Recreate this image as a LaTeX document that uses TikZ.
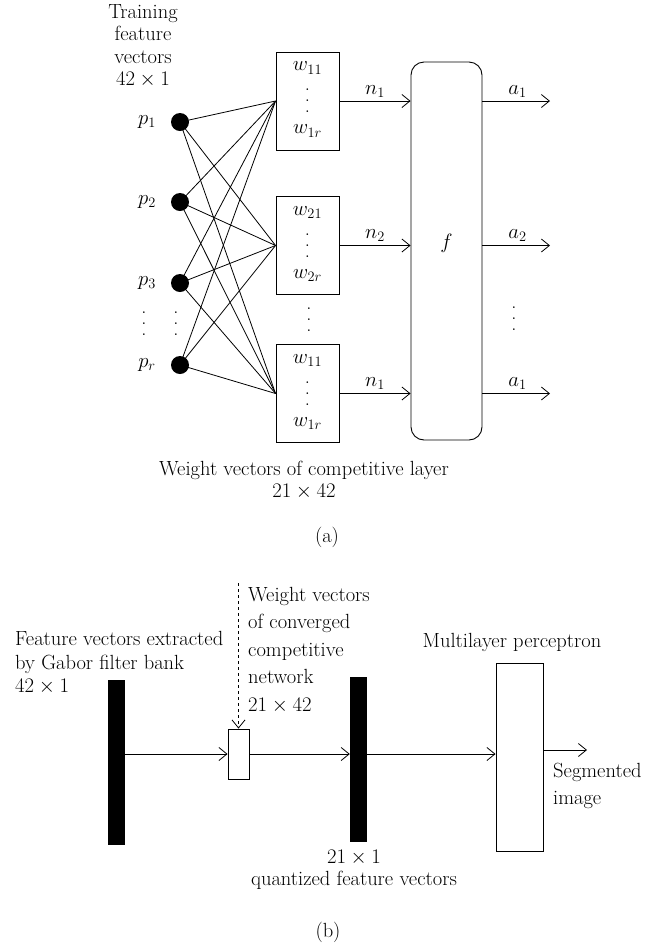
\documentclass[tikz,border=0pt]{standalone}
\usepackage{amsmath}
\usepackage{tikz}
\usetikzlibrary{arrows.meta, positioning}
\newcommand{\vdts}{\vbox{\baselineskip=11pt\lineskiplimit=0pt\hbox{.}\hbox{.}\hbox{.}}}

\begin{document}
\begin{tikzpicture}[
        x=1pt, y=-1pt,
        >={Straight Barb[length=8pt, width=13pt]},
        every node/.style={font=\fontsize{20.5}{22.5}\selectfont},
        input/.style={circle, fill=black, inner sep=0pt, minimum size=18pt},
        wbox/.style={draw, line width=0.9pt, minimum width=63pt, minimum height=98pt, inner sep=0pt},
        fbox/.style={draw, line width=0.9pt, rounded corners=13pt, minimum width=71pt, minimum height=378pt},
        bar/.style={fill=black, inner sep=0pt, minimum width=17pt, minimum height=165pt},
        plain/.style={draw, line width=0.9pt, inner sep=0pt},
        link/.style={line width=0.8pt},
        flow/.style={->, line width=0.8pt}
    ]
        \useasboundingbox (0,0) rectangle (664,946);

        % (a)
        \node[align=center] (train) at (143,46) {Training\\feature\\vectors\\$42\times 1$};

        \node[input] (p1) at (180,122) {};
        \node[input] (p2) at (180,202) {};
        \node[input] (p3) at (180,283) {};
        \node[input] (pr) at (180,365) {};
        \node (lp1) at (147,122) {$p_1$};
        \node (lp2) at (147,202) {$p_2$};
        \node (lp3) at (147,283) {$p_3$};
        \node (lpr) at (147,365) {$p_r$};
        \node[inner sep=0pt] (vl) at (144,324) {\vdts};
        \node[inner sep=0pt] (vr) at (176,324) {\vdts};

        \foreach \w/\y/\i in {w1/101/1, w2/245.5/2, w3/393.5/1} {
            \node[wbox] (\w) at (307.5,\y) {};
            \node (\w t) at ([yshift=33pt]\w.center) {$w_{\i 1}$};
            \node[inner sep=0pt] (\w d) at (\w.center) {\vdts};
            \node (\w b) at ([yshift=-30pt]\w.center) {$w_{\i r}$};
        }
        \node[inner sep=0pt] (vw) at (309,320) {\vdts};

        \foreach \p in {p1,p2,p3,pr}
            \foreach \w in {w1,w2,w3}
                \draw[link] (\p.center) -- (\w.west);

        \node[fbox] (f) at (446.5,251) {};
        \node (fl) at (446.5,243) {$f$};

        \draw[flow] (w1.east) -- (w1.east -| f.west) node[midway, above] (n1) {$n_1$};
        \draw[flow] (w2.east) -- (w2.east -| f.west) node[midway, above] (n2) {$n_2$};
        \draw[flow] (w3.east) -- (w3.east -| f.west) node[midway, above] (n3) {$n_1$};

        \coordinate (o1) at (550,101);
        \coordinate (o2) at (550,245.5);
        \coordinate (o3) at (550,393.5);
        \draw[flow] (o1 -| f.east) -- (o1) node[pos=0.52, above] (a1) {$a_1$};
        \draw[flow] (o2 -| f.east) -- (o2) node[pos=0.52, above] (a2) {$a_2$};
        \draw[flow] (o3 -| f.east) -- (o3) node[pos=0.52, above] (a3) {$a_1$};
        \node[inner sep=0pt] (va) at (514,319) {\vdts};

        \node[align=center] (wcap) at (304,480) {Weight vectors of competitive layer\\$21\times 42$};
        \node (capa) at (327,537) {(a)};

        % (b)
        \node[bar] (bar1) at (116.5,762.5) {};
        \node[plain, minimum width=21pt, minimum height=50pt] (sb) at (238.5,754) {};
        \node[bar] (bar2) at (358.5,759.5) {};
        \node[plain, minimum width=47pt, minimum height=188pt] (mlp) at (519.5,757) {};

        \coordinate (wtop) at (238.5,583);
        \coordinate (out) at (587,750);
        \draw[flow, dashed] (wtop) -- (sb.north);
        \draw[flow] (sb.west -| bar1.east) -- (sb.west);
        \draw[flow] (sb.east) -- (sb.east -| bar2.west);
        \draw[flow] (sb.east -| bar2.east) -- (sb.east -| mlp.west);
        \draw[flow] (out -| mlp.east) -- (out);

        \node[align=left, anchor=west, inner sep=0pt, font=\fontsize{20.5}{23.5}\selectfont] (feat) at (15,663) {Feature vectors extracted\\by Gabor filter bank\\$42\times 1$};
        \node[align=left, anchor=west, inner sep=0pt, font=\fontsize{20.5}{27.5}\selectfont] (wconv) at (248,650) {Weight vectors\\of converged\\competitive\\network\\$21\times 42$};
        \node (mlpl) at (512,642) {Multilayer perceptron};
        \node[align=left, anchor=west, inner sep=0pt, font=\fontsize{20.5}{27}\selectfont] (seg) at (553,786) {Segmented\\image};
        \node[align=center] (quant) at (354,870) {$21\times 1$\\quantized feature vectors};
        \node (capb) at (328,932) {(b)};
    \end{tikzpicture}
\end{document}
